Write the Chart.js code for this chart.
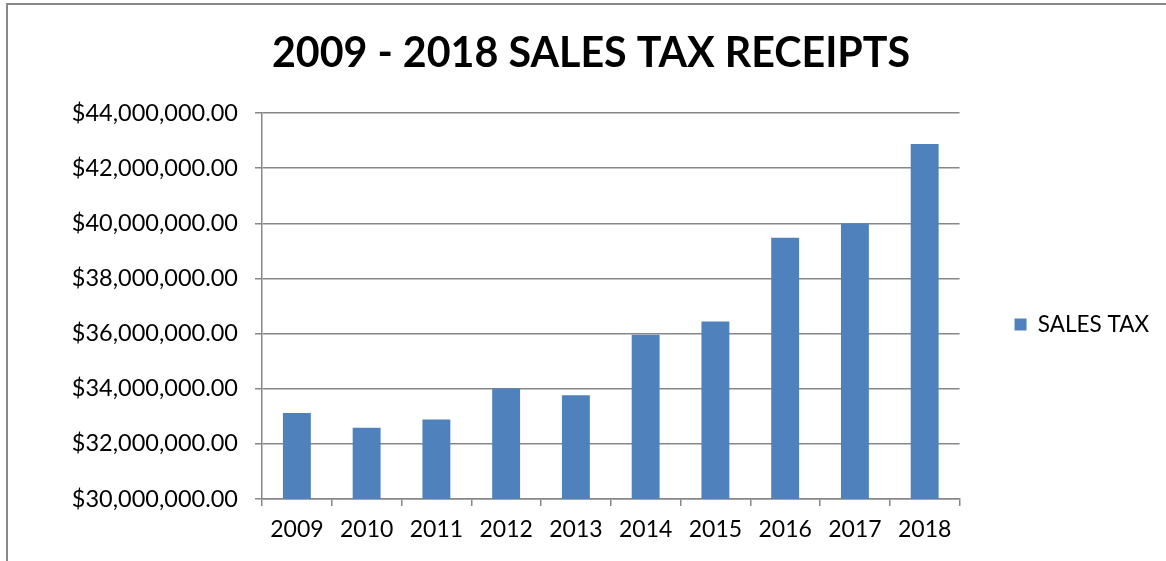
<!DOCTYPE html>
<html lang="en">
<head>
    <meta charset="UTF-8">
    <title>2009 - 2018 Sales Tax Receipts</title>
    <script src="https://cdn.jsdelivr.net/npm/chart.js"></script>
    <style>
        body { margin: 0; background: #fff; }
        canvas { display: block; }
    </style>
</head>
<body>
    <canvas id="salesTaxChart" width="1166" height="561"></canvas>

    <script>
        const years = ["2009", "2010", "2011", "2012", "2013", "2014", "2015", "2016", "2017", "2018"];
        const salesTax = [33120000, 32580000, 32880000, 34010000, 33760000, 35960000, 36440000, 39480000, 39990000, 42880000];
        const yTicks = [30000000, 32000000, 34000000, 36000000, 38000000, 40000000, 42000000, 44000000];

        const fontFamily = "Lato, 'Liberation Sans', sans-serif";
        const gridColor = "#878787";

        // frame around the chart (only top + left edges show in the original)
        const framePlugin = {
            id: "frame",
            beforeDraw(chart) {
                const ctx = chart.ctx;
                ctx.save();
                ctx.fillStyle = "#fff";
                ctx.fillRect(0, 0, chart.width, chart.height);
                ctx.strokeStyle = "#888";
                ctx.lineWidth = 2;
                ctx.beginPath();
                ctx.moveTo(7, chart.height);
                ctx.lineTo(7, 4);
                ctx.lineTo(chart.width, 4);
                ctx.stroke();
                ctx.restore();
            }
        };

        new Chart(document.getElementById("salesTaxChart"), {
            type: "bar",
            data: {
                labels: years,
                datasets: [{
                    label: "SALES TAX",
                    data: salesTax,
                    backgroundColor: "#4f81bd",
                    borderWidth: 0,
                    categoryPercentage: 1.0,
                    barPercentage: 0.4
                }]
            },
            options: {
                responsive: false,
                animation: false,
                layout: { padding: { left: 23, right: 7, top: 0, bottom: 0 } },
                plugins: {
                    title: {
                        display: true,
                        text: "2009 - 2018 SALES TAX RECEIPTS",
                        color: "#000",
                        font: { family: fontFamily, size: 41.2, weight: "bold", lineHeight: 1.2 },
                        padding: { top: 29.4, bottom: 34.2 }
                    },
                    legend: {
                        display: true,
                        position: "right",
                        title: {
                            display: true,
                            text: " ",
                            font: { size: 10, lineHeight: 1 },
                            padding: { top: 78, bottom: 0 }
                        },
                        labels: {
                            color: "#000",
                            font: { family: fontFamily, size: 22.5 },
                            boxWidth: 12,
                            boxHeight: 12,
                            padding: 55
                        }
                    },
                    tooltip: { enabled: false }
                },
                scales: {
                    x: {
                        grid: { drawOnChartArea: false, drawTicks: true, tickLength: 7, color: gridColor, lineWidth: 1.5, offset: true },
                        border: { display: true, color: gridColor, width: 1.5 },
                        ticks: { color: "#000", font: { family: fontFamily, size: 23 }, padding: 10, maxRotation: 0 },
                        afterFit(scale) { scale.height = 62; }
                    },
                    y: {
                        min: 30000000,
                        max: 44000000,
                        afterBuildTicks(scale) {
                            scale.ticks = yTicks.map(v => ({ value: v }));
                        },
                        grid: { color: gridColor, lineWidth: 1.5, tickLength: 7 },
                        border: { display: true, color: gridColor, width: 1.5 },
                        ticks: {
                            color: "#000",
                            font: { family: fontFamily, size: 23.5 },
                            padding: 17,
                            callback: v => "$" + v.toLocaleString("en-US", { minimumFractionDigits: 2, maximumFractionDigits: 2 })
                        },
                        afterFit(scale) { scale.width = 239; }
                    }
                }
            },
            plugins: [framePlugin]
        });
    </script>
</body>
</html>
